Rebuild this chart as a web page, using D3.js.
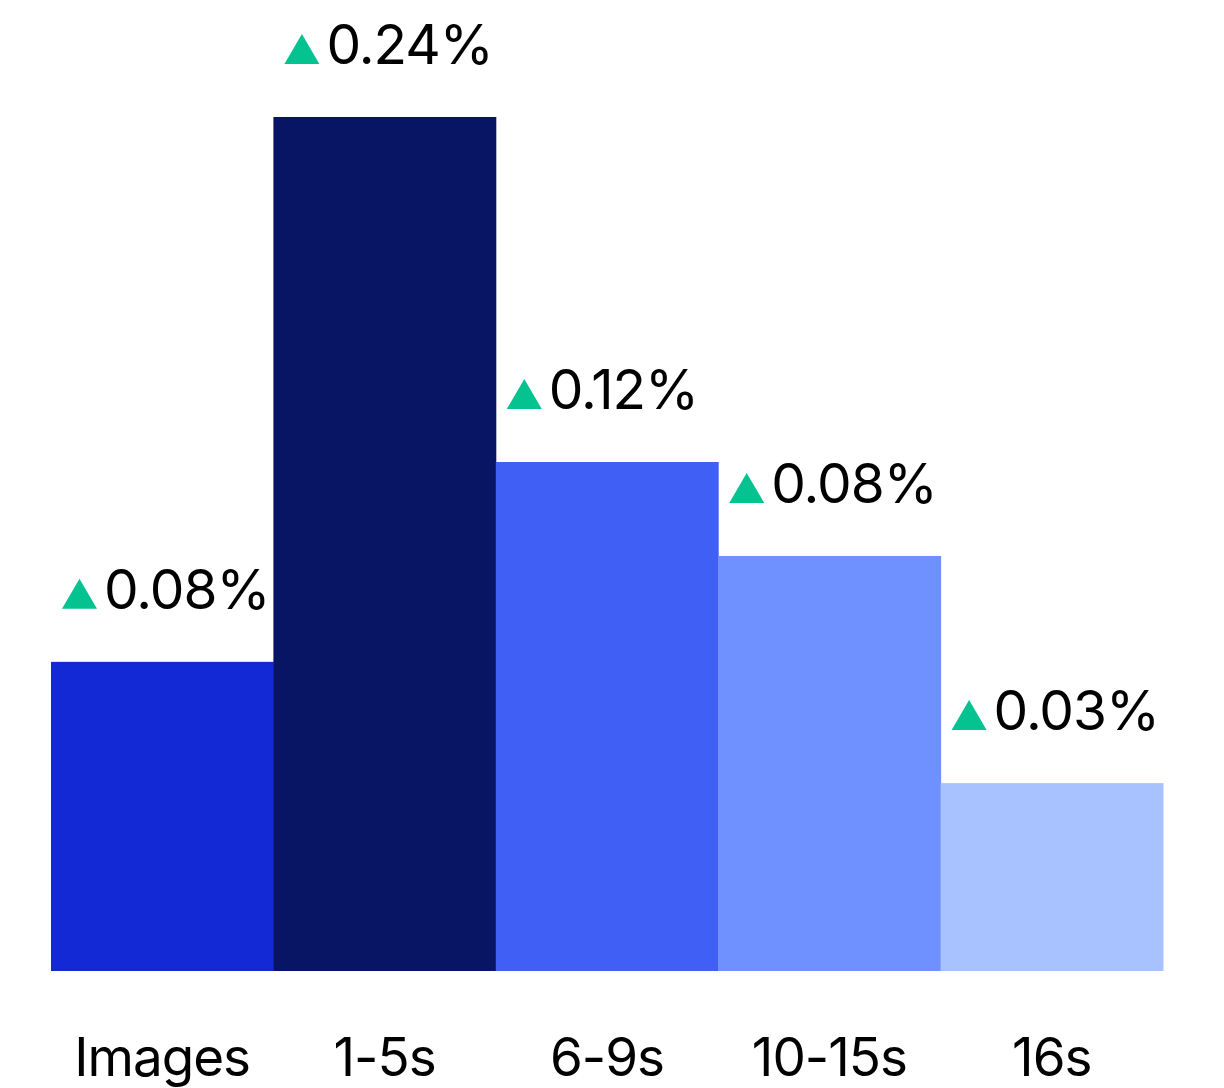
<!DOCTYPE html>
<html>
<head>
<meta charset="utf-8">
<title>Bars</title>
<script src="https://d3js.org/d3.v7.min.js"></script>
<style>
  body { margin: 0; background: #fff; }
  text { font-family: Inter, 'Noto Sans', sans-serif; }
</style>
</head>
<body>
<script>
// data
var categories = ["Images", "1-5s", "6-9s", "10-15s", "16s"];
var barValues = [36.2, 100, 59.6, 48.6, 22.0];   // relative bar height (no axis shown)
var changeLabels = ["0.08%", "0.24%", "0.12%", "0.08%", "0.03%"];
var barColors = ["#1429d6", "#081464", "#3f5ff5", "#6f91ff", "#a8c2ff"];

var W = 1224, H = 1088;
var svg = d3.select("body").append("svg").attr("width", W).attr("height", H);

var x = d3.scaleBand().domain(categories).range([51, 1163]).padding(0);
var y = d3.scaleLinear().domain([0, 100]).range([971, 117]);

// bars
svg.selectAll("rect.bar").data(categories).enter().append("rect")
  .attr("class", "bar")
  .attr("x", function(d){ return x(d); })
  .attr("width", x.bandwidth() + 0.5)
  .attr("y", function(d,i){ return y(barValues[i]); })
  .attr("height", function(d,i){ return y(0) - y(barValues[i]); })
  .attr("fill", function(d,i){ return barColors[i]; });

// change labels with green triangle
var lab = svg.selectAll("g.lab").data(categories).enter().append("g")
  .attr("class", "lab")
  .attr("transform", function(d,i){
    return "translate(" + (x(d) + 11) + "," + (y(barValues[i]) - 53) + ")";
  });

lab.append("path")
  .attr("d", "M0,0 L35,0 L17.5,-30 Z")
  .attr("fill", "#05c390");

lab.append("text")
  .attr("x", 42)
  .attr("y", 0)
  .attr("font-size", 55)
  .attr("letter-spacing", -1)
  .attr("fill", "#000")
  .text(function(d,i){ return changeLabels[i]; });

// category labels
svg.selectAll("text.cat").data(categories).enter().append("text")
  .attr("class", "cat")
  .attr("x", function(d){ return x(d) + x.bandwidth()/2; })
  .attr("y", 1076)
  .attr("text-anchor", "middle")
  .attr("font-size", 53)
  .attr("letter-spacing", -1)
  .attr("fill", "#000")
  .text(function(d){ return d; });
</script>
</body>
</html>
